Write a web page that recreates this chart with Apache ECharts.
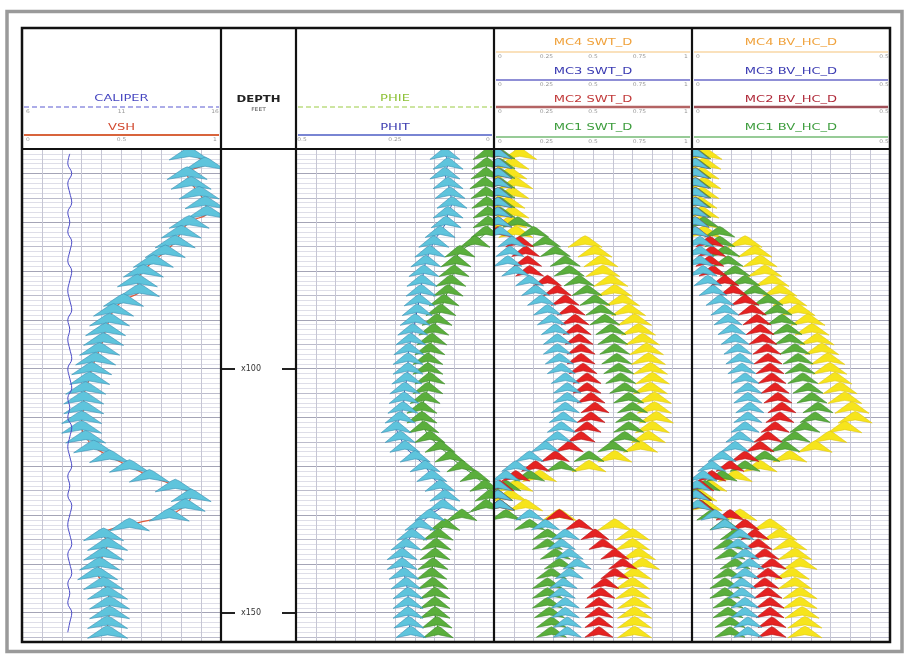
<!DOCTYPE html>
<html><head><meta charset="utf-8">
<script src="https://cdn.jsdelivr.net/npm/echarts@6/dist/echarts.min.js"></script>
<style>html,body{margin:0;padding:0;background:#fff}#c{width:905px;height:656px}</style>
</head><body><div id="c"></div><script>
// ---- data (depth in feet) ----
const depth = [56,58,60,62,64,66,68,70,72,74,76,78,80,82,84,86,88,90,92,94,96,98,100,102,104,106,108,110,112,114,116,118,120,122,124,126,128,130,132,134,136,138,140,142,144,146,148,150,152,154];
const depthLabels = [100,150];
const caliper = [8.4,8.3,8.5,8.3,8.4,8.5,8.3,8.4,8.3,8.5,8.4,8.3,8.5,8.4,8.3,8.4,8.5,8.3,8.4,8.3,8.4,8.5,8.3,8.4,8.5,8.3,8.4,8.3,8.5,8.4,8.3,8.4,8.5,8.3,8.4,8.3,8.5,8.4,8.3,8.4,8.5,8.3,8.4,8.5,8.3,8.4,8.3,8.5,8.4,8.3];
const vsh = [0.84,0.92,0.83,0.85,0.89,0.92,0.93,0.84,0.80,0.77,
 0.72,0.66,0.61,0.58,0.59,0.51,0.46,0.44,0.42,0.41,
 0.39,0.37,0.35,0.34,0.32,0.31,0.31,0.30,0.30,0.32,
 0.36,0.44,0.54,0.64,0.77,0.85,0.82,0.74,0.54,0.41,
 0.43,0.41,0.39,0.38,0.41,0.43,0.44,0.44,0.43,0.43];
const phit = [0.124,0.116,0.124,0.116,0.111,0.106,0.116,0.121,0.136,0.152,
 0.162,0.172,0.177,0.182,0.184,0.189,0.194,0.199,0.205,0.210,
 0.215,0.217,0.217,0.220,0.225,0.227,0.230,0.237,0.247,0.237,
 0.225,0.199,0.174,0.157,0.136,0.124,0.129,0.162,0.187,0.207,
 0.222,0.232,0.232,0.227,0.222,0.217,0.217,0.217,0.215,0.210];
const phie = [0.015,0.018,0.020,0.023,0.020,0.018,0.015,0.015,0.020,0.048,
 0.086,0.096,0.101,0.109,0.116,0.126,0.134,0.144,0.152,0.157,
 0.162,0.167,0.167,0.162,0.167,0.174,0.182,0.182,0.177,0.162,
 0.136,0.111,0.081,0.048,0.023,0.010,0.020,0.081,0.124,0.141,
 0.146,0.149,0.154,0.157,0.154,0.149,0.149,0.149,0.144,0.141];
const mc1Swt = [0.03,0.03,0.03,0.03,0.03,0.03,0.03,0.12,0.20,0.26,
 0.31,0.36,0.38,0.43,0.47,0.51,0.54,0.56,0.59,0.60,
 0.61,0.62,0.63,0.64,0.66,0.68,0.70,0.69,0.68,0.66,
 0.60,0.48,0.34,0.18,0.06,0.02,0.03,0.06,0.18,0.27,
 0.27,0.31,0.33,0.29,0.27,0.27,0.27,0.28,0.29,0.29];
const mc2Swt = [0.02,0.02,0.02,0.02,0.02,0.02,0.02,0.02,0.02,0.13,
 0.16,0.17,0.18,0.27,0.32,0.36,0.39,0.41,0.42,0.43,
 0.44,0.44,0.45,0.47,0.47,0.49,0.51,0.49,0.47,0.44,
 0.38,0.31,0.21,0.11,0.03,0.02,0.03,0.33,0.43,0.51,
 0.55,0.61,0.65,0.61,0.56,0.54,0.53,0.53,0.53,0.53];
const mc3Swt = [0.02,0.02,0.02,0.02,0.02,0.02,0.02,0.02,0.03,0.09,
 0.08,0.07,0.11,0.18,0.21,0.24,0.27,0.29,0.31,0.32,
 0.32,0.33,0.34,0.36,0.37,0.37,0.36,0.35,0.34,0.32,
 0.26,0.18,0.11,0.06,0.02,0.02,0.03,0.18,0.26,0.36,
 0.34,0.38,0.42,0.38,0.35,0.34,0.36,0.36,0.37,0.37];
const mc4Swt = [0.13,0.09,0.08,0.11,0.09,0.07,0.09,0.08,0.11,0.46,
 0.51,0.54,0.55,0.59,0.61,0.65,0.68,0.71,0.73,0.75,
 0.77,0.78,0.79,0.80,0.79,0.81,0.81,0.82,0.80,0.78,
 0.74,0.61,0.48,0.23,0.11,0.08,0.16,0.33,0.61,0.70,
 0.70,0.73,0.75,0.71,0.70,0.70,0.71,0.71,0.71,0.71];
const mc1Bv = [0.010,0.010,0.010,0.010,0.010,0.010,0.010,0.030,0.070,0.070,
 0.083,0.091,0.109,0.134,0.159,0.192,0.215,0.227,0.240,0.247,
 0.260,0.268,0.273,0.280,0.293,0.303,0.318,0.311,0.285,0.260,
 0.235,0.184,0.134,0.076,0.033,0.013,0.020,0.050,0.083,0.109,
 0.091,0.096,0.109,0.091,0.083,0.083,0.091,0.091,0.096,0.096];
const mc2Bv = [0.008,0.008,0.008,0.008,0.008,0.008,0.008,0.008,0.008,0.045,
 0.050,0.045,0.053,0.083,0.104,0.134,0.152,0.164,0.172,0.179,
 0.189,0.192,0.197,0.202,0.210,0.217,0.227,0.222,0.210,0.192,
 0.172,0.134,0.096,0.050,0.020,0.013,0.020,0.096,0.134,0.159,
 0.167,0.184,0.202,0.192,0.184,0.192,0.197,0.197,0.202,0.202];
const mc3Bv = [0.008,0.008,0.008,0.008,0.008,0.008,0.008,0.008,0.008,0.020,
 0.020,0.020,0.028,0.040,0.053,0.071,0.083,0.091,0.101,0.109,
 0.116,0.121,0.126,0.134,0.141,0.141,0.146,0.141,0.134,0.121,
 0.109,0.076,0.050,0.028,0.013,0.010,0.015,0.058,0.083,0.121,
 0.116,0.134,0.146,0.134,0.126,0.126,0.134,0.134,0.141,0.141];
const mc4Bv = [0.033,0.030,0.025,0.030,0.025,0.020,0.025,0.020,0.030,0.134,
 0.159,0.172,0.184,0.202,0.222,0.247,0.268,0.293,0.303,0.316,
 0.328,0.343,0.348,0.361,0.374,0.386,0.404,0.412,0.386,0.348,
 0.311,0.247,0.172,0.109,0.045,0.020,0.033,0.121,0.197,0.222,
 0.247,0.260,0.273,0.253,0.260,0.273,0.273,0.278,0.285,0.285];

// ---- layout ----
const X = [22, 221, 296, 494, 692, 890];
const TOP = 149, BOTTOM = 642, HEAD = 28;
const DMIN = 55, DMAX = 156;
const FONT = '"DejaVu Sans", Arial, sans-serif';

const chart = echarts.init(document.getElementById('c'), null, {renderer: 'canvas'});

const hColors = ['#bcbccc','#dedee8','#dedee8','#dedee8','#dedee8','#a4a4b6','#dedee8','#dedee8','#dedee8','#dedee8'];
function grid(i){ return {left: X[i], top: TOP, width: X[i+1]-X[i], height: BOTTOM-TOP}; }
function yDepth(gi, withGrid){
  return {type:'value', gridIndex: gi, min: DMIN, max: DMAX, inverse: true, interval: 1,
    axisLine:{show:false}, axisTick:{show:false}, axisLabel:{show:false},
    splitLine:{show: withGrid, lineStyle:{color: hColors, width: 1}}};
}
function xTrack(gi, min, max, interval, inverse, grid){
  return {type:'value', gridIndex: gi, min, max, interval, inverse: !!inverse,
    axisLine:{show:false}, axisTick:{show:false}, axisLabel:{show:false},
    splitLine:{show: grid, lineStyle:{color:'#c6c6d4', width:1}}};
}
function pts(xs){ return xs.map((v,i)=>[v, depth[i]]); }
function chevron(name, xs, xi, yi, fill, stroke, hw, hh, z){
  return {type:'custom', name, xAxisIndex: xi, yAxisIndex: yi, clip: true, z: z||3,
    data: pts(xs), encode:{x:0, y:1}, silent: true,
    renderItem(params, api){
      const p = api.coord([api.value(0), api.value(1)]);
      return {type:'polygon', shape:{points:[
        [p[0]-hw, p[1]+hh*0.5], [p[0]-hw*0.2, p[1]-hh*0.4], [p[0], p[1]-hh*0.55],
        [p[0]+hw*0.2, p[1]-hh*0.4], [p[0]+hw, p[1]+hh*0.5], [p[0], p[1]+hh*0.22]]},
        style:{fill, stroke, lineWidth: 0.6}};
    }};
}
function line(name, xs, xi, yi, color, width, z){
  return {type:'line', name, xAxisIndex: xi, yAxisIndex: yi, data: pts(xs), showSymbol:false,
    smooth: 0.4, lineStyle:{color, width}, z: z||2, silent:true, clip:true};
}

// header graphics
const G = [];
function hText(x, y, text, color, size, scaleX, weight){
  G.push({type:'text', x, y, scaleX: scaleX||1, silent:true, z: 10,
    style:{text, fill: color, font: (weight||'normal') + ' ' + size + 'px ' + FONT, align:'center', verticalAlign:'middle'}});
}
function hLine(x0, x1, y, color, width, dash){
  G.push({type:'line', silent:true, z: 10, shape:{x1:x0, y1:y, x2:x1, y2:y},
    style:{stroke: color, lineWidth: width, lineDash: dash || null}});
}
function headerRow(ti, label, tColor, lColor, ty, ly, lw, dash, scale){
  const x0 = X[ti], x1 = X[ti+1];
  hText((x0+x1)/2, ty, label, tColor, 9, 1.45);
  hLine(x0+2, x1-2, ly, lColor, lw, dash);
  if (scale){
    const n = scale.length;
    scale.forEach((s, k) => {
      const xx = x0 + 6 + (x1 - x0 - 12) * k / (n - 1);
      hText(xx, ly + 5, s, '#999', 5, 1.2);
    });
  }
}
// outer grey border and black frame
G.push({type:'rect', silent:true, z:1, shape:{x:7, y:11.5, width:895, height:640}, style:{fill:null, stroke:'#9a9a9a', lineWidth:3.5}});
G.push({type:'rect', silent:true, z:20, shape:{x:X[0], y:HEAD, width:X[5]-X[0], height:BOTTOM-HEAD}, style:{fill:null, stroke:'#111', lineWidth:2.5}});
[1,2,3,4].forEach(i => G.push({type:'line', silent:true, z:20, shape:{x1:X[i], y1:HEAD, x2:X[i], y2:BOTTOM}, style:{stroke:'#111', lineWidth:2.2}}));
G.push({type:'line', silent:true, z:20, shape:{x1:X[0], y1:TOP, x2:X[5], y2:TOP}, style:{stroke:'#111', lineWidth:2.2}});

headerRow(0, 'CALIPER', '#4646c0', '#5a5ad2', 99, 107, 1.2, [5,3], ['6','11','16']);
headerRow(0, 'VSH', '#d24a30', '#d8643c', 128, 135, 2, null, ['0','0.5','1']);
hText((X[1]+X[2])/2, 100, 'DEPTH', '#222', 9, 1.3, 'bold');
hText((X[1]+X[2])/2, 110, 'FEET', '#555', 5, 1.2);
headerRow(2, 'PHIE', '#8cc034', '#9ccc44', 99, 107, 1.2, [5,3], null);
headerRow(2, 'PHIT', '#3c3cb0', '#4c5cc4', 128, 135, 1.6, null, ['0.5','0.25','0']);
const swtRows = [['MC4 SWT_D','#f0a23c','#f6c47a',43,52,1.2],['MC3 SWT_D','#3a3ab2','#6a6ac8',72,80,1.4],['MC2 SWT_D','#c23a3a','#b46464',100,107,2.4],['MC1 SWT_D','#3c9c3c','#74ba74',128,137,1.4]];
swtRows.forEach(r => headerRow(3, r[0], r[1], r[2], r[3], r[4], r[5], null, ['0','0.25','0.5','0.75','1']));
const bvRows = [['MC4 BV_HC_D','#f0a23c','#f6c47a',43,52,1.2],['MC3 BV_HC_D','#3a3ab2','#6a6ac8',72,80,1.4],['MC2 BV_HC_D','#b02a3a','#a05058',100,107,2.6],['MC1 BV_HC_D','#3c9c3c','#74ba74',128,137,1.4]];
bvRows.forEach(r => headerRow(4, r[0], r[1], r[2], r[3], r[4], r[5], null, ['0','0.5']));

const CYAN = '#5ec4dc', CYANB = '#3a8fb4';
const option = {
  animation: false,
  backgroundColor: '#ffffff',
  grid: [grid(0), grid(1), grid(2), grid(3), grid(4)],
  xAxis: [
    xTrack(0, 0, 1, 0.1, false, true),      // 0 VSH
    xTrack(0, 6, 16, 1, false, false),      // 1 CALIPER
    xTrack(1, 0, 1, 1, false, false),       // 2 depth dummy
    xTrack(2, 0, 0.5, 0.05, true, true),    // 3 porosity
    xTrack(3, 0, 1, 0.1, false, true),      // 4 SWT
    xTrack(4, 0, 0.5, 0.05, false, true)    // 5 BV_HC
  ],
  yAxis: [
    yDepth(0, true),
    {type:'value', gridIndex:1, min:DMIN, max:DMAX, inverse:true, position:'left',
      axisLine:{show:false}, splitLine:{show:false},
      axisTick:{show:true, inside:true, length:14, customValues: depthLabels, lineStyle:{color:'#222', width:2}},
      axisLabel:{show:true, inside:true, margin:20, customValues: depthLabels, formatter: v => 'x' + v,
        color:'#333', fontSize:8, fontFamily: FONT}},
    {type:'value', gridIndex:1, min:DMIN, max:DMAX, inverse:true, position:'right',
      axisLine:{show:false}, splitLine:{show:false}, axisLabel:{show:false},
      axisTick:{show:true, inside:true, length:14, customValues: depthLabels, lineStyle:{color:'#222', width:2}}},
    yDepth(2, true), yDepth(3, true), yDepth(4, true)
  ],
  graphic: G,
  series: [
    line('CALIPER', caliper, 1, 0, '#4a4ac8', 1, 4),
    line('VSH', vsh, 0, 0, '#e05a3a', 1.2, 2),
    chevron('VSH fill', vsh, 0, 0, CYAN, CYANB, 20, 12, 3),
    line('PHIT', phit, 3, 3, '#3a5ab0', 1, 2),
    chevron('PHIT fill', phit, 3, 3, CYAN, CYANB, 15, 11, 4),
    line('PHIE', phie, 3, 3, '#3c8a2c', 1, 2),
    chevron('PHIE fill', phie, 3, 3, '#5aae3c', '#3e8a2a', 15, 11, 3),
    chevron('MC4 SWT_D', mc4Swt, 4, 4, '#f6e41c', '#e0c810', 17, 11, 3),
    chevron('MC1 SWT_D', mc1Swt, 4, 4, '#5aae3c', '#3e8a2a', 15, 10, 4),
    chevron('MC2 SWT_D', mc2Swt, 4, 4, '#e42222', '#b81818', 14, 10, 5),
    chevron('MC3 SWT_D', mc3Swt, 4, 4, CYAN, CYANB, 14, 10, 6),
    chevron('MC4 BV_HC_D', mc4Bv, 5, 5, '#f6e41c', '#e0c810', 17, 11, 3),
    chevron('MC1 BV_HC_D', mc1Bv, 5, 5, '#5aae3c', '#3e8a2a', 15, 10, 4),
    chevron('MC2 BV_HC_D', mc2Bv, 5, 5, '#e42222', '#b81818', 14, 10, 5),
    chevron('MC3 BV_HC_D', mc3Bv, 5, 5, CYAN, CYANB, 14, 10, 6)
  ]
};
chart.setOption(option);
</script></body></html>
